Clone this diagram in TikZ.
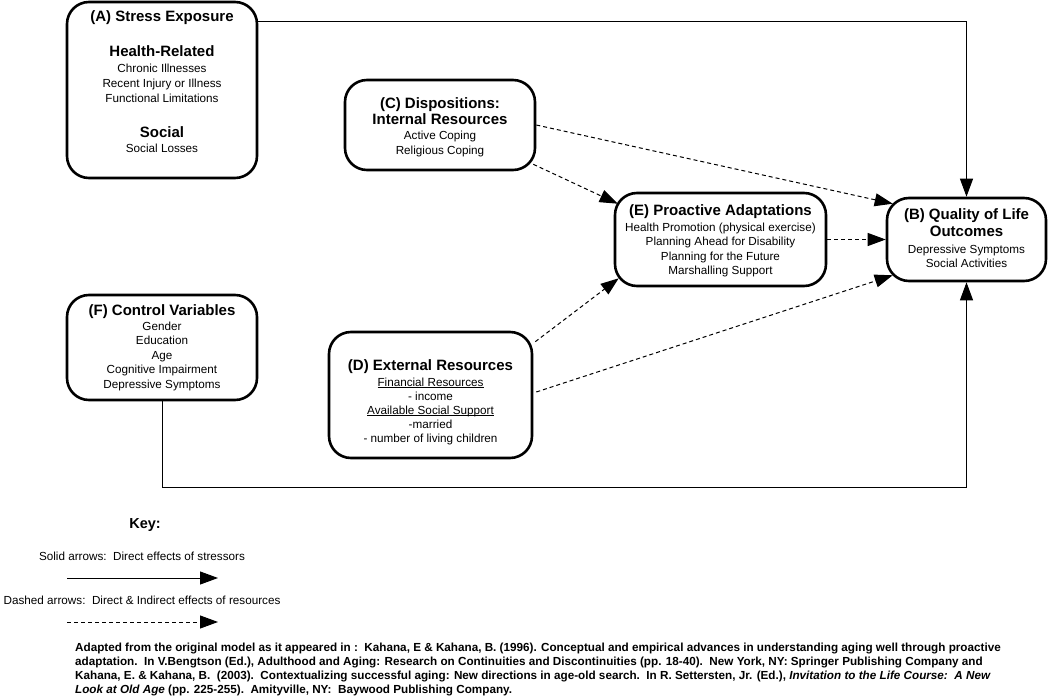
\documentclass[tikz,border=0pt]{standalone}
\usepackage{fontspec}
\setmainfont{Liberation Sans}
\usetikzlibrary{arrows.meta,calc}
\newcommand{\myul}[1]{\setbox0\hbox{#1}\rlap{\rule[-2pt]{\wd0}{0.6pt}}\box0}
\begin{document}
\begin{tikzpicture}[x=1pt,y=-1pt,
  box/.style={draw,line width=2.6pt,rounded corners=22pt,inner sep=0pt},
  conn/.style={line width=1pt,-{Triangle[length=18pt,width=13pt]}},
  dconn/.style={conn,dash pattern=on 4pt off 3pt},
  ttl/.style={font=\fontsize{15}{17}\selectfont\bfseries,align=center,inner sep=0pt,anchor=base},
  txt/.style={font=\fontsize{11.7}{14.6}\selectfont,align=center,inner sep=0pt,anchor=base},
  keyt/.style={font=\fontsize{11.7}{14}\selectfont,inner sep=0pt,anchor=base},
  cite/.style={font=\fontsize{11.7}{14}\selectfont\bfseries,inner sep=0pt,anchor=base west},
]
\useasboundingbox[fill=white] (0,0) rectangle (1050,698);

% boxes
\node[box,minimum width=190pt,minimum height=176pt] (A) at (162,90) {};
\node[box,minimum width=190pt,minimum height=90pt] (C) at (440,125) {};
\node[box,minimum width=211pt,minimum height=93pt] (E) at (720.5,239.5) {};
\node[box,minimum width=159pt,minimum height=83pt] (B) at (966.5,239.5) {};
\node[box,minimum width=190pt,minimum height=105pt] (F) at (162,347.5) {};
\node[box,minimum width=203pt,minimum height=126pt] (D) at (430.5,395) {};

% box texts (multi-line nodes: base = baseline of last line)
\node[ttl] (At) at (162,22) {(A) Stress Exposure};
\node[ttl] (Ah) at (162,57) {Health-Related};
\node[txt] (Al) at (162,102.2) {Chronic Illnesses\\Recent Injury or Illness\\Functional Limitations};
\node[ttl] (As) at (162,138) {Social};
\node[txt] (Asl) at (162,153) {Social Losses};

\node[ttl] (Ct) at (440,125) {(C) Dispositions:\\Internal Resources};
\node[txt] (Cl) at (440,154.6) {Active Coping\\Religious Coping};

\node[ttl] (Et) at (720.5,215) {(E) Proactive Adaptations};
\node[txt] (El) at (720.5,274.8) {Health Promotion (physical exercise)\\Planning Ahead for Disability\\Planning for the Future\\Marshalling Support};

\node[ttl] (Bt) at (966.5,236) {(B) Quality of Life\\Outcomes};
\node[txt] (Bl) at (966.5,267.6) {Depressive Symptoms\\Social Activities};

\node[ttl] (Ft) at (162,315) {(F) Control Variables};
\node[txt] (Fl) at (162,388.4) {Gender\\Education\\Age\\Cognitive Impairment\\Depressive Symptoms};

\node[ttl] (Dt) at (430.5,370) {(D) External Resources};
\node[txt,font=\fontsize{11.7}{14}\selectfont] (Dl) at (430.5,442) {\myul{Financial Resources}\\- income\\\myul{Available Social Support}\\-married\\- number of living children};

% solid connectors
\draw[conn] ($(A.north east)+(0,21)$) -| (B.north);
\draw[conn] (F.south) -- ++(0,86) -| (B.south);

% dashed connectors
\draw[dconn] ($(C.south east)+(-3,-7)$) -- ($(E.north west)+(4,12)$);
\draw[dconn] (C.east) -- ($(B.north west)+(7,7)$);
\draw[dconn] (E.east) -- (B.west);
\draw[dconn] ($(D.north east)+(2,11)$) -- ($(E.south west)+(5,-9)$);
\draw[dconn] ($(D.east)+(3,-3)$) -- ($(B.south west)+(7,-7)$);

% key
\node[font=\fontsize{14.5}{16}\selectfont\bfseries,inner sep=0pt,anchor=base] (key) at (145,528) {Key:};
\node[keyt] (ks) at (142,560) {Solid arrows:\ \ Direct effects of stressors};
\coordinate (ks1) at (67,578);
\coordinate (ks2) at (218,578);
\draw[conn] (ks1) -- (ks2);
\node[keyt] (kd) at (142,604) {Dashed arrows:\ \ Direct \& Indirect effects of resources};
\coordinate (kd1) at (67,622);
\coordinate (kd2) at (218,622);
\draw[dconn] (kd1) -- (kd2);

% citation
\node[cite] (c1) at (75,651) {Adapted from the original model as it appeared in :\ \ Kahana, E \& Kahana, B. (1996). Conceptual and empirical advances in understanding aging well through proactive};
\node[cite] (c2) at (75,665) {adaptation.\ \ In V.Bengtson (Ed.), Adulthood and Aging: Research on Continuities and Discontinuities (pp. 18-40).\ \ New York, NY: Springer Publishing Company and};
\node[cite] (c3) at (75,679) {Kahana, E. \& Kahana, B.\ \ (2003).\ \ Contextualizing successful aging: New directions in age-old search.\ \ In R. Settersten, Jr. (Ed.), \textit{Invitation to the Life Course:\ \ A New}};
\node[cite] (c4) at (75,693) {\textit{Look at Old Age} (pp. 225-255).\ \ Amityville, NY:\ \ Baywood Publishing Company.};
\end{tikzpicture}
\end{document}
